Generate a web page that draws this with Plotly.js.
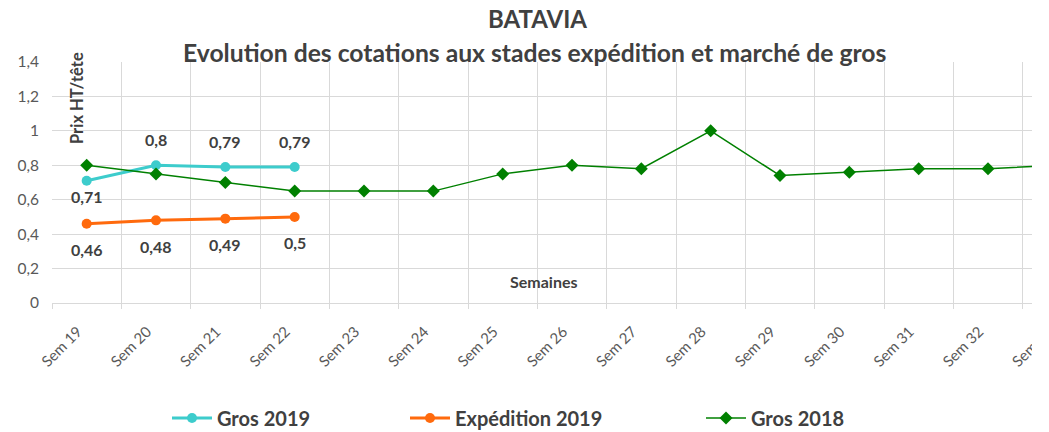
<!DOCTYPE html>
<html>
<head>
<meta charset="utf-8">
<script src="https://cdn.plot.ly/plotly-3.0.1.min.js"></script>
<style>
html,body{margin:0;padding:0;background:#fff;}
#wrap{width:1032px;height:432px;overflow:hidden;}
#chart{width:1110px;height:432px;}
</style>
</head>
<body>
<div id="wrap"><div id="chart"></div></div>
<script>
// ---- data ----
const weeks = ["Sem 19","Sem 20","Sem 21","Sem 22","Sem 23","Sem 24","Sem 25","Sem 26","Sem 27","Sem 28","Sem 29","Sem 30","Sem 31","Sem 32","Sem 33"];
const weeks2019 = ["Sem 19","Sem 20","Sem 21","Sem 22"];
const gros2019 = [0.71, 0.8, 0.79, 0.79];
const expedition2019 = [0.46, 0.48, 0.49, 0.5];
const gros2018 = [0.8, 0.75, 0.7, 0.65, 0.65, 0.65, 0.75, 0.8, 0.78, 1.0, 0.74, 0.76, 0.78, 0.78, 0.8];
const yTicks = [0, 0.2, 0.4, 0.6, 0.8, 1, 1.2, 1.4];

// ---- geometry helpers ----
const W = 1110, H = 432;
const L = 52, T = 62, B = 303;
const catW = 69.33;
const plotW = catW * weeks.length;
const R = W - L - plotW;
const plotH = B - T;
const px = p => (p - L) / plotW;
const py = p => (B - p) / plotH;
const cx = p => p / W;
const cy = p => 1 - p / H;

const txt = '#404040';
const font = 'Lato, "Open Sans", sans-serif';
const fmt = v => String(v).replace('.', ',');

const traces = [
  {x: weeks2019, y: gros2019, name: 'Gros 2019', type: 'scatter', mode: 'lines+markers',
   line: {color: '#3DCCCC', width: 3}, marker: {symbol: 'circle', size: 10, color: '#3DCCCC'}, legend: 'legend'},
  {x: weeks2019, y: expedition2019, name: 'Expédition 2019', type: 'scatter', mode: 'lines+markers',
   line: {color: '#FF6A0D', width: 3}, marker: {symbol: 'circle', size: 10, color: '#FF6A0D'}, legend: 'legend2'},
  {x: weeks, y: gros2018, name: 'Gros 2018', type: 'scatter', mode: 'lines+markers',
   line: {color: '#008000', width: 1.5}, marker: {symbol: 'diamond', size: 10, color: '#008000'}, legend: 'legend3'}
];

const annotations = [];
// data labels
gros2019.forEach((v, i) => {
  annotations.push({x: weeks2019[i], y: v, xref: 'x', yref: 'y', text: fmt(v), showarrow: false,
    yshift: i === 0 ? -16 : 26, font: {family: font, size: 16, color: txt, weight: 'bold'}});
});
expedition2019.forEach((v, i) => {
  annotations.push({x: weeks2019[i], y: v, xref: 'x', yref: 'y', text: fmt(v), showarrow: false,
    yshift: -26, font: {family: font, size: 16, color: txt, weight: 'bold'}});
});
// titles
annotations.push({xref: 'paper', yref: 'paper', x: px(537), y: py(19), text: '<b>BATAVIA</b>', showarrow: false,
  xanchor: 'center', yanchor: 'middle', font: {family: font, size: 24, color: txt}});
annotations.push({xref: 'paper', yref: 'paper', x: px(535), y: py(53), text: '<b>Evolution des cotations aux stades expédition et marché de gros</b>', showarrow: false,
  xanchor: 'center', yanchor: 'middle', font: {family: font, size: 24.7, color: txt}});
annotations.push({xref: 'paper', yref: 'paper', x: px(77), y: py(98), text: '<b>Prix HT/tête</b>', showarrow: false,
  textangle: -90, xanchor: 'center', yanchor: 'middle', font: {family: font, size: 16.5, color: txt}});
annotations.push({xref: 'paper', yref: 'paper', x: px(543), y: py(281), text: '<b>Semaines</b>', showarrow: false,
  xanchor: 'center', yanchor: 'middle', font: {family: font, size: 16, color: txt}});

const legBase = {orientation: 'h', xref: 'container', yref: 'container', yanchor: 'middle', y: cy(418), xanchor: 'left',
  bgcolor: 'rgba(0,0,0,0)', itemwidth: 40, font: {family: font, size: 20, color: txt, weight: 'bold'}};

const layout = {
  width: W, height: H,
  margin: {l: L, r: R, t: T, b: H - B, pad: 0, autoexpand: false},
  paper_bgcolor: '#fff', plot_bgcolor: '#fff',
  separators: ', ',
  showlegend: true,
  legend: Object.assign({}, legBase, {x: cx(167)}),
  legend2: Object.assign({}, legBase, {x: cx(405)}),
  legend3: Object.assign({}, legBase, {x: cx(701)}),
  xaxis: {type: 'category', categoryarray: weeks, range: [-0.5, weeks.length - 0.5], automargin: false,
    tickson: 'boundaries', showgrid: true, gridcolor: '#D9D9D9', gridwidth: 1,
    ticks: 'outside', ticklen: 5, tickcolor: '#D9D9D9',
    showline: true, linecolor: '#D9D9D9', linewidth: 1, ticklabelstandoff: 13, ticklabelshift: -9,
    tickangle: -45, tickfont: {family: font, size: 15, color: '#595959'}, zeroline: false, fixedrange: true},
  yaxis: {range: [0, 1.4], tickvals: yTicks, ticktext: yTicks.map(fmt), showgrid: true, gridcolor: '#D9D9D9', gridwidth: 1,
    zeroline: false, showline: false, ticks: '', ticklabelstandoff: 12, automargin: false,
    tickfont: {family: font, size: 15.5, color: '#595959'}, fixedrange: true},
  annotations: annotations
};

Plotly.newPlot('chart', traces, layout, {displayModeBar: false, staticPlot: true});
</script>
</body>
</html>
